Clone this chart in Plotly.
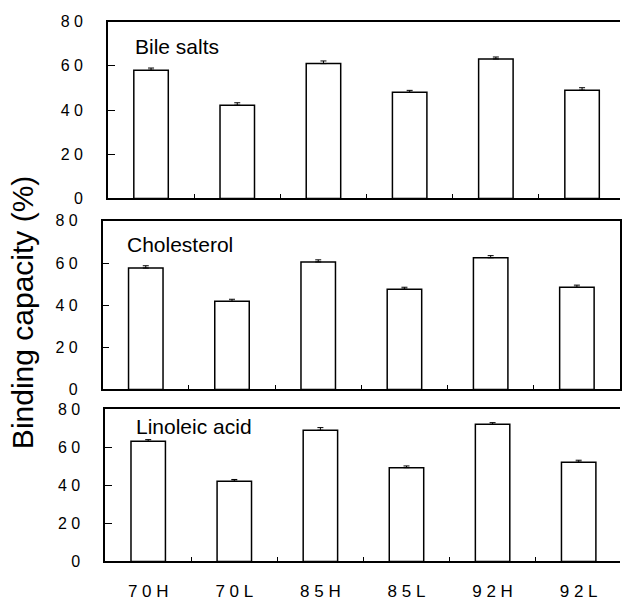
import plotly.graph_objects as go

categories = ["70H", "70L", "85H", "85L", "92H", "92L"]
tick_text_x = ["7 0 H", "7 0 L", "8 5 H", "8 5 L", "9 2 H", "9 2 L"]
y_tick_vals = [0, 20, 40, 60, 80]
y_tick_text = ["0", "2 0", "4 0", "6 0", "8 0"]

bile_salts = [58.0, 42.2, 61.0, 48.0, 63.1, 49.0]
bile_salts_err = [1.0, 1.1, 1.2, 0.9, 0.9, 1.1]

cholesterol = [57.6, 41.8, 60.5, 47.6, 62.5, 48.5]
cholesterol_err = [1.1, 1.0, 1.0, 0.9, 1.0, 1.0]

linoleic_acid = [63.0, 42.1, 68.8, 49.2, 71.9, 52.1]
linoleic_acid_err = [0.9, 0.9, 1.4, 0.9, 0.9, 1.0]

panel_names = ["Bile salts", "Cholesterol", "Linoleic acid"]

W, H = 622, 605
FONT = "Liberation Sans, Arial, sans-serif"

panels = [
    dict(vals=bile_salts, err=bile_salts_err, left=108.3, top=14, bottom=196,
         xr=[-0.5, 5.44], mirror_y=False, labels=False, title_dy=26, title_dx=25),
    dict(vals=cholesterol, err=cholesterol_err, left=103, top=219, bottom=392.5,
         xr=[-0.5, 5.5], mirror_y=True, labels=False, title_dy=24, title_dx=22),
    dict(vals=linoleic_acid, err=linoleic_acid_err, left=105.5, top=412.5, bottom=569.5,
         xr=[-0.5, 5.48], mirror_y=False, labels=True, title_dy=18, title_dx=29),
]

fig = go.Figure()
layout = dict(
    width=W, height=H, autosize=False,
    margin=dict(l=0, r=0, t=0, b=0),
    paper_bgcolor="white", plot_bgcolor="white",
    showlegend=False,
    font=dict(family=FONT, color="black"),
)
annotations = []

for i, p in enumerate(panels):
    n = "" if i == 0 else str(i + 1)
    xa, ya = "x" + n, "y" + n
    fig.add_trace(go.Bar(
        x=categories, y=p["vals"],
        xaxis=xa, yaxis=ya, width=0.40,
        marker=dict(color="white", line=dict(color="black", width=1.5)),
        error_y=dict(type="data", array=p["err"], symmetric=False, arrayminus=[0] * 6,
                     color="black", thickness=1, width=3),
    ))
    layout["xaxis" + n] = dict(
        domain=[p["left"] / W, 1], anchor=ya, range=p["xr"], type="category",
        tickmode="array", tickvals=categories,
        ticktext=tick_text_x, showticklabels=p["labels"],
        tickson="boundaries", ticks="inside", ticklen=5, tickcolor="black", tickwidth=1,
        showline=True, linecolor="black", linewidth=1.5, mirror=True,
        showgrid=False, zeroline=False, fixedrange=True,
        tickfont=dict(family=FONT, size=17, color="black"),
        ticklabelstandoff=13,
    )
    layout["yaxis" + n] = dict(
        domain=[1 - p["bottom"] / H, 1 - p["top"] / H], anchor=xa, range=[0, 80],
        tickmode="array", tickvals=y_tick_vals, ticktext=y_tick_text,
        ticks="inside", ticklen=7, tickcolor="black", tickwidth=1,
        showline=True, linecolor="black", linewidth=1.5, mirror=p["mirror_y"],
        showgrid=False, zeroline=False, fixedrange=True,
        tickfont=dict(family=FONT, size=16, color="black"),
        ticklabelstandoff=20,
    )
    annotations.append(dict(
        text=panel_names[i], xref="paper", yref="paper",
        x=(p["left"] + p["title_dx"]) / W, y=1 - (p["top"] + p["title_dy"]) / H,
        xanchor="left", yanchor="middle", showarrow=False,
        font=dict(family=FONT, size=21, color="black"),
    ))

annotations.append(dict(
    text="Binding capacity (%)", xref="paper", yref="paper",
    x=22 / W, y=1 - 313 / H, textangle=-90,
    xanchor="center", yanchor="middle", showarrow=False,
    font=dict(family=FONT, size=30, color="black"),
))
layout["annotations"] = annotations
fig.update_layout(**layout)
fig.write_html("out.html")
